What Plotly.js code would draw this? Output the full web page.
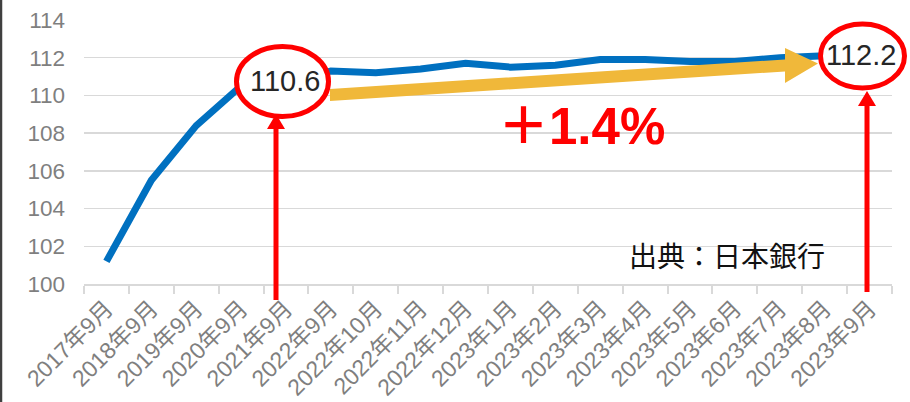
<!DOCTYPE html>
<html><head><meta charset="utf-8">
<script src="https://cdn.plot.ly/plotly-3.0.1.min.js"></script>
<style>html,body{margin:0;padding:0;background:#fff;}#chart{width:910px;height:402px;}</style>
</head><body><div id="chart"></div>
<script>
const categories = ['2017年9月','2018年9月','2019年9月','2020年9月','2021年9月','2022年9月','2022年10月','2022年11月','2022年12月','2023年1月','2023年2月','2023年3月','2023年4月','2023年5月','2023年6月','2023年7月','2023年8月','2023年9月'];
const values = [101.2,105.5,108.4,110.5,110.6,111.3,111.2,111.4,111.7,111.5,111.6,111.9,111.9,111.8,111.8,112.0,112.1,112.2];
const yTicks = [100,102,104,106,108,110,112,114];
const startLabel = '110.6';
const endLabel = '112.2';
const changeLabel = '＋1.4%';
const sourceLabel = '出典：日本銀行';

const M = {l:84, r:18, t:20, b:118};
const W = 910 - M.l - M.r, H = 402 - M.t - M.b;
const px = x => (x - M.l) / W;
const py = y => (402 - M.b - y) / H;
const P = (x,y) => px(x).toFixed(5) + ',' + py(y).toFixed(5);

const FONT = 'Liberation Sans, Arial, Noto Sans CJK JP, sans-serif';

const arrowPath = 'M' + P(330,89) + ' L' + P(785,59.5) + ' L' + P(785,48) + ' L' + P(818,63.5) +
  ' L' + P(785,83) + ' L' + P(785,71.5) + ' L' + P(330,101) + ' Z';
const head = (x, tip) => 'M' + P(x-9, tip+15) + ' L' + P(x+9, tip+15) + ' L' + P(x, tip) + ' Z';

const shapes = [
  {type:'line', xref:'paper', yref:'paper', x0:px(1), x1:px(1), y0:py(0), y1:py(402), line:{color:'#404040', width:2.5}, layer:'above'},
  {type:'path', xref:'paper', yref:'paper', path:arrowPath, fillcolor:'#F0B83A', line:{width:0}, layer:'above'},
  {type:'line', xref:'paper', yref:'paper', x0:px(276), x1:px(276), y0:py(300), y1:py(127), line:{color:'#FF0000', width:5}, layer:'above'},
  {type:'path', xref:'paper', yref:'paper', path:head(276,114), fillcolor:'#FF0000', line:{width:0}, layer:'above'},
  {type:'line', xref:'paper', yref:'paper', x0:px(867), x1:px(867), y0:py(292), y1:py(105), line:{color:'#FF0000', width:5}, layer:'above'},
  {type:'path', xref:'paper', yref:'paper', path:head(867,91), fillcolor:'#FF0000', line:{width:0}, layer:'above'},
  {type:'circle', xref:'paper', yref:'paper', x0:px(236.5), x1:px(328.5), y0:py(116.5), y1:py(46.5), fillcolor:'#FFFFFF', line:{color:'#FF0000', width:5}, layer:'above'},
  {type:'circle', xref:'paper', yref:'paper', x0:px(820.5), x1:px(904.5), y0:py(88), y1:py(24), fillcolor:'#FFFFFF', line:{color:'#FF0000', width:5}, layer:'above'}
];

const annotations = [
  {xref:'paper', yref:'paper', x:px(285), y:py(81), text:startLabel, showarrow:false, xanchor:'center', yanchor:'middle', font:{family:FONT, size:29, color:'#262626'}},
  {xref:'paper', yref:'paper', x:px(861), y:py(55), text:endLabel, showarrow:false, xanchor:'center', yanchor:'middle', font:{family:FONT, size:29, color:'#262626'}},
  {xref:'paper', yref:'paper', x:px(581), y:py(126), text:'<b>'+changeLabel+'</b>', showarrow:false, xanchor:'center', yanchor:'middle', font:{family:FONT, size:51, color:'#FF0000'}},
  {xref:'paper', yref:'paper', x:px(727), y:py(257), text:sourceLabel, showarrow:false, xanchor:'center', yanchor:'middle', font:{family:FONT, size:28, color:'#111111'}}
];

const trace = {x:categories, y:values, type:'scatter', mode:'lines', line:{color:'#0070C0', width:7, shape:'linear'}, hoverinfo:'skip'};

const layout = {
  width:910, height:402, margin:M, paper_bgcolor:'#fff', plot_bgcolor:'#fff', showlegend:false,
  font:{family:FONT},
  xaxis:{type:'category', tickson:'boundaries', ticks:'outside', ticklen:8, tickcolor:'#D9D9D9', tickwidth:2,
    showline:true, linecolor:'#D9D9D9', linewidth:2, showgrid:false, tickangle:-45,
    tickfont:{family:FONT, size:23, color:'#7F7F7F'}, range:[-0.5, categories.length-0.5], fixedrange:true},
  yaxis:{range:[100,114], tickvals:yTicks, ticktext:yTicks.map(String), showgrid:true, gridcolor:'#D9D9D9', gridwidth:1.5,
    zeroline:false, showline:false, ticks:'', ticklabelstandoff:18,
    tickfont:{family:FONT, size:22.5, color:'#7F7F7F'}, fixedrange:true},
  shapes:shapes, annotations:annotations
};
Plotly.newPlot('chart', [trace], layout, {staticPlot:true, displayModeBar:false});
</script></body></html>
